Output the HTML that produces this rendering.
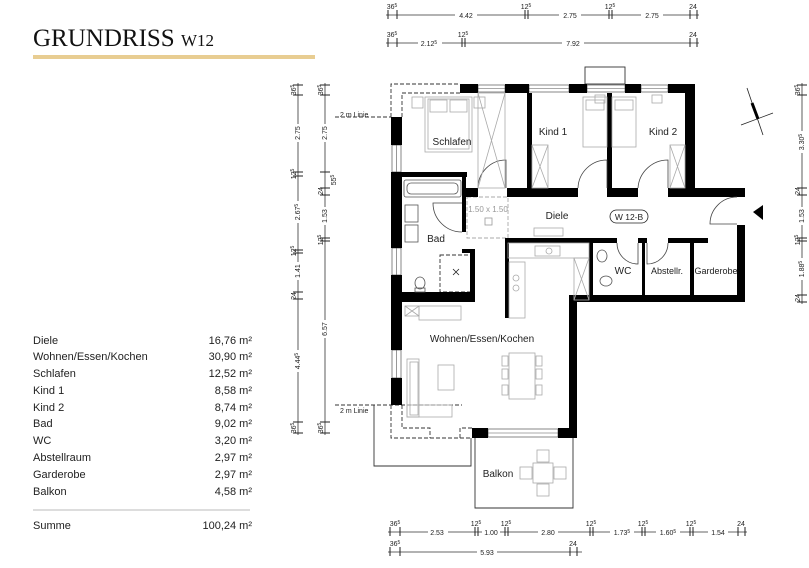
<!DOCTYPE html>
<html><head><meta charset="utf-8"><style>
body{margin:0;background:#fff;width:809px;height:568px;overflow:hidden;font-family:"Liberation Sans",sans-serif}
svg{position:absolute;left:0;top:0}
.t{font-family:"Liberation Sans",sans-serif;fill:#222}
.d{font-family:"Liberation Sans",sans-serif;font-size:7px;fill:#222}
.s{font-family:"Liberation Sans",sans-serif;font-size:5px;fill:#222}
.l{font-size:11px;fill:#222;font-family:"Liberation Sans",sans-serif}
</style></head><body>
<svg width="809" height="568" viewBox="0 0 809 568" xmlns="http://www.w3.org/2000/svg">
<text x="33" y="46" font-family="Liberation Serif,serif" font-size="25" fill="#111">GRUNDRISS <tspan font-size="17">W12</tspan></text>
<rect x="33" y="55" width="282" height="4" fill="#e8cd92"/>
<g class="l">
<text x="33" y="344">Diele</text><text x="252" y="344" text-anchor="end">16,76 m²</text>
<text x="33" y="360">Wohnen/Essen/Kochen</text><text x="252" y="360" text-anchor="end">30,90 m²</text>
<text x="33" y="377">Schlafen</text><text x="252" y="377" text-anchor="end">12,52 m²</text>
<text x="33" y="394">Kind 1</text><text x="252" y="394" text-anchor="end">8,58 m²</text>
<text x="33" y="411">Kind 2</text><text x="252" y="411" text-anchor="end">8,74 m²</text>
<text x="33" y="427">Bad</text><text x="252" y="427" text-anchor="end">9,02 m²</text>
<text x="33" y="444">WC</text><text x="252" y="444" text-anchor="end">3,20 m²</text>
<text x="33" y="461">Abstellraum</text><text x="252" y="461" text-anchor="end">2,97 m²</text>
<text x="33" y="478">Garderobe</text><text x="252" y="478" text-anchor="end">2,97 m²</text>
<text x="33" y="495">Balkon</text><text x="252" y="495" text-anchor="end">4,58 m²</text>
<text x="33" y="529">Summe</text><text x="252" y="529" text-anchor="end">100,24 m²</text>
</g>
<line x1="33" y1="510" x2="250" y2="510" stroke="#bbb" stroke-width="1"/>

<g stroke="#333" stroke-width="0.8" fill="none">
<line x1="386" y1="15" x2="699" y2="15"/>
<line x1="386" y1="43" x2="699" y2="43"/>
<line x1="388" y1="532" x2="747" y2="532"/>
<line x1="388" y1="552" x2="582" y2="552"/>
<line x1="298" y1="83" x2="298" y2="435"/>
<line x1="325" y1="83" x2="325" y2="435"/>
<line x1="802" y1="83" x2="802" y2="304"/>
</g>
<g stroke="#222" stroke-width="1">
<path d="M388 10v9M397 10v9M525 10v9M528 10v9M609 10v9M612 10v9M690 10v9M697 10v9"/>
<path d="M388 38v9M397 38v9M462 38v9M465 38v9M690 38v9M697 38v9"/>
<path d="M390 527v9M400 527v9M475 527v9M478 527v9M505 527v9M508 527v9M590 527v9M593 527v9M642 527v9M645 527v9M690 527v9M693 527v9M738 527v9M745 527v9"/>
<path d="M390 547v9M400 547v9M570 547v9M577 547v9"/>
<path d="M293 85h10M293 95h10M293 172h10M293 176h10M293 250h10M293 253h10M293 292h10M293 299h10M293 422h10M293 433h10"/>
<path d="M320 85h10M320 95h10M320 172h10M320 188h10M320 195h10M320 238h10M320 241h10M320 422h10M320 433h10"/>
<path d="M797 85h10M797 95h10M797 188h10M797 195h10M797 238h10M797 241h10M797 295h10M797 302h10"/>
</g>
<g class="d" text-anchor="middle">
<rect x="455" y="10" width="22" height="9" fill="#fff"/><text x="466" y="18">4.42</text>
<rect x="559" y="10" width="22" height="9" fill="#fff"/><text x="570" y="18">2.75</text>
<rect x="641" y="10" width="22" height="9" fill="#fff"/><text x="652" y="18">2.75</text>
<text x="392" y="9">36<tspan class="s" dy="-2">5</tspan></text>
<text x="526" y="9">12<tspan class="s" dy="-2">5</tspan></text>
<text x="610" y="9">12<tspan class="s" dy="-2">5</tspan></text>
<text x="693" y="9">24</text>
<rect x="418" y="38" width="24" height="9" fill="#fff"/><text x="429" y="46">2.12<tspan class="s" dy="-2">5</tspan></text>
<rect x="562" y="38" width="22" height="9" fill="#fff"/><text x="573" y="46">7.92</text>
<text x="392" y="37">36<tspan class="s" dy="-2">5</tspan></text>
<text x="463" y="37">12<tspan class="s" dy="-2">5</tspan></text>
<text x="693" y="37">24</text>
<text x="395" y="526">36<tspan class="s" dy="-2">5</tspan></text>
<rect x="428" y="527" width="20" height="9" fill="#fff"/><text x="437" y="535">2.53</text>
<text x="476" y="526">12<tspan class="s" dy="-2">5</tspan></text>
<rect x="482" y="527" width="18" height="9" fill="#fff"/><text x="491" y="535">1.00</text>
<text x="506" y="526">12<tspan class="s" dy="-2">5</tspan></text>
<rect x="538" y="527" width="20" height="9" fill="#fff"/><text x="548" y="535">2.80</text>
<text x="591" y="526">12<tspan class="s" dy="-2">5</tspan></text>
<rect x="610" y="527" width="24" height="9" fill="#fff"/><text x="622" y="535">1.73<tspan class="s" dy="-2">5</tspan></text>
<text x="643" y="526">12<tspan class="s" dy="-2">5</tspan></text>
<rect x="656" y="527" width="24" height="9" fill="#fff"/><text x="668" y="535">1.60<tspan class="s" dy="-2">5</tspan></text>
<text x="691" y="526">12<tspan class="s" dy="-2">5</tspan></text>
<rect x="708" y="527" width="20" height="9" fill="#fff"/><text x="718" y="535">1.54</text>
<text x="741" y="526">24</text>
<text x="395" y="546">36<tspan class="s" dy="-2">5</tspan></text>
<rect x="477" y="547" width="20" height="9" fill="#fff"/><text x="487" y="555">5.93</text>
<text x="573" y="546">24</text>
</g>
<g class="d" text-anchor="middle">
<g transform="translate(296,90) rotate(-90)"><text>36<tspan class="s" dy="-2">5</tspan></text></g>
<rect x="294" y="124" width="8" height="18" fill="#fff"/><g transform="translate(300,133) rotate(-90)"><text>2.75</text></g>
<g transform="translate(296,174) rotate(-90)"><text>12<tspan class="s" dy="-2">5</tspan></text></g>
<rect x="294" y="201" width="8" height="22" fill="#fff"/><g transform="translate(300,212) rotate(-90)"><text>2.67<tspan class="s" dy="-2">5</tspan></text></g>
<g transform="translate(296,251) rotate(-90)"><text>12<tspan class="s" dy="-2">5</tspan></text></g>
<rect x="294" y="262" width="8" height="18" fill="#fff"/><g transform="translate(300,271) rotate(-90)"><text>1.41</text></g>
<g transform="translate(296,296) rotate(-90)"><text>24</text></g>
<rect x="294" y="350" width="8" height="22" fill="#fff"/><g transform="translate(300,361) rotate(-90)"><text>4.44<tspan class="s" dy="-2">5</tspan></text></g>
<g transform="translate(296,428) rotate(-90)"><text>36<tspan class="s" dy="-2">5</tspan></text></g>

<g transform="translate(323,90) rotate(-90)"><text>36<tspan class="s" dy="-2">5</tspan></text></g>
<rect x="321" y="124" width="8" height="18" fill="#fff"/><g transform="translate(327,133) rotate(-90)"><text>2.75</text></g>
<g transform="translate(336,180) rotate(-90)"><text>55<tspan class="s" dy="-2">5</tspan></text></g>
<g transform="translate(323,191) rotate(-90)"><text>24</text></g>
<rect x="321" y="207" width="8" height="18" fill="#fff"/><g transform="translate(327,216) rotate(-90)"><text>1.53</text></g>
<g transform="translate(323,240) rotate(-90)"><text>12<tspan class="s" dy="-2">5</tspan></text></g>
<rect x="321" y="320" width="8" height="18" fill="#fff"/><g transform="translate(327,329) rotate(-90)"><text>6.57</text></g>
<g transform="translate(323,428) rotate(-90)"><text>36<tspan class="s" dy="-2">5</tspan></text></g>

<g transform="translate(800,90) rotate(-90)"><text>36<tspan class="s" dy="-2">5</tspan></text></g>
<rect x="798" y="131" width="8" height="22" fill="#fff"/><g transform="translate(804,142) rotate(-90)"><text>3.30<tspan class="s" dy="-2">5</tspan></text></g>
<g transform="translate(800,191) rotate(-90)"><text>24</text></g>
<rect x="798" y="207" width="8" height="18" fill="#fff"/><g transform="translate(804,216) rotate(-90)"><text>1.53</text></g>
<g transform="translate(800,240) rotate(-90)"><text>12<tspan class="s" dy="-2">5</tspan></text></g>
<rect x="798" y="258" width="8" height="22" fill="#fff"/><g transform="translate(804,269) rotate(-90)"><text>1.88<tspan class="s" dy="-2">5</tspan></text></g>
<g transform="translate(800,298) rotate(-90)"><text>24</text></g>
</g>
<text x="340" y="117" class="d">2 m Linie</text>
<text x="340" y="413" class="d">2 m Linie</text>

<g stroke="#333" stroke-width="0.9" fill="none" stroke-dasharray="4,2">
<path d="M391 117V84H460M402 117V93H460"/>
<line x1="335" y1="117" x2="391" y2="117"/>
<path d="M391 405V438H472M402 405V428H430V438M460 438V428H472"/>
<line x1="335" y1="405" x2="462" y2="405"/>
<rect x="467" y="197" width="41" height="41" stroke="#aaa"/>
<rect x="440" y="255" width="33" height="37"/>
</g>
<path d="M374 405V466H471V438" stroke="#333" stroke-width="0.9" fill="none"/>
<path d="M475 438V508H573V438" stroke="#333" stroke-width="0.9" fill="none"/>
<rect x="585" y="67" width="40" height="17" fill="none" stroke="#333" stroke-width="0.9"/>

<g stroke="#555" stroke-width="0.7" fill="#fff">
<rect x="478" y="85" width="27" height="7"/><rect x="529" y="85" width="40" height="7"/><rect x="641" y="85" width="27" height="7"/><rect x="587" y="85" width="38" height="7"/>
<rect x="392" y="145" width="9" height="27"/><rect x="392" y="248" width="9" height="27"/><rect x="392" y="350" width="9" height="28"/>
<rect x="488" y="429" width="70" height="8"/>
</g>
<g stroke="#555" stroke-width="0.6"><path d="M478 88.5h27M529 88.5h40M641 88.5h27M587 88.5h38M396.5 145v27M396.5 248v27M396.5 350v28M488 433h70"/></g>

<g fill="#000">
<rect x="460" y="84" width="18" height="9"/><rect x="505" y="84" width="24" height="9"/><rect x="569" y="84" width="18" height="9"/><rect x="625" y="84" width="16" height="9"/><rect x="668" y="84" width="27" height="9"/>
<rect x="685" y="84" width="10" height="113"/>
<rect x="391" y="117" width="11" height="28"/><rect x="391" y="172" width="11" height="76"/><rect x="391" y="275" width="11" height="75"/><rect x="391" y="378" width="11" height="27"/>
<rect x="527" y="93" width="5" height="104"/><rect x="607" y="93" width="5" height="104"/>
<rect x="462" y="188" width="16" height="9"/><rect x="507" y="188" width="71" height="9"/><rect x="607" y="188" width="31" height="9"/><rect x="668" y="188" width="77" height="9"/>
<rect x="737" y="188" width="8" height="9"/><rect x="737" y="225" width="8" height="77"/>
<rect x="402" y="172" width="65" height="5"/><rect x="462" y="172" width="4" height="60"/>
<rect x="462" y="249" width="13" height="4"/><rect x="470" y="249" width="5" height="53"/><rect x="400" y="292" width="75" height="10"/>
<rect x="505" y="238" width="4" height="80"/><rect x="505" y="238" width="90" height="5"/>
<rect x="589" y="238" width="4" height="64"/><rect x="593" y="238" width="24" height="5"/><rect x="638" y="238" width="9" height="5"/><rect x="668" y="238" width="40" height="5"/>
<rect x="642" y="238" width="3" height="64"/><rect x="690" y="238" width="4" height="64"/>
<rect x="569" y="295" width="176" height="7"/><rect x="569" y="295" width="8" height="143"/>
<rect x="472" y="428" width="16" height="10"/><rect x="558" y="428" width="19" height="10"/>
</g>

<g stroke="#444" stroke-width="0.8" fill="none">
<path d="M506 188V160A28 28 0 0 0 478 188"/>
<path d="M607 188V160A29 29 0 0 0 578 188"/>
<path d="M668 188V160A30 30 0 0 0 638 188"/>
<path d="M462 203H433A29 29 0 0 0 462 232"/>
<path d="M638 243V264A21 21 0 0 1 617 243"/>
<path d="M647 243V264A21 21 0 0 0 668 243"/>
<path d="M737 224H710A27 27 0 0 1 737 197"/>
</g>
<g stroke="#aaa" stroke-width="0.8" fill="none">
<rect x="425" y="97" width="47" height="55"/><rect x="428" y="99" width="41" height="50"/><rect x="430" y="100" width="17" height="12"/><rect x="450" y="100" width="17" height="12"/>
<rect x="412" y="97" width="11" height="11"/><rect x="474" y="97" width="11" height="11"/>
<path d="M478 93L505 188M505 93L478 188"/><rect x="478" y="93" width="27" height="95"/>
<rect x="583" y="97" width="24" height="50"/><rect x="586" y="100" width="18" height="10"/><rect x="612" y="97" width="24" height="50"/><rect x="615" y="100" width="18" height="10"/>
<rect x="595" y="95" width="10" height="8"/><rect x="652" y="95" width="10" height="8"/>
<rect x="532" y="145" width="16" height="43"/><path d="M532 145L548 188M548 145L532 188"/>
<rect x="670" y="145" width="15" height="43"/><path d="M670 145L685 188M685 145L670 188"/>
<rect x="534" y="228" width="29" height="8"/>
<rect x="535" y="246" width="25" height="10"/><circle cx="549" cy="251" r="3"/>
<rect x="509" y="262" width="16" height="56"/><circle cx="516" cy="278" r="3"/><circle cx="516" cy="288" r="3"/>
<rect x="574" y="258" width="15" height="42"/><path d="M574 258L589 300M589 258L574 300"/>
<rect x="508" y="243" width="81" height="15"/>
<rect x="405" y="306" width="14" height="10"/><path d="M405 306L419 316M419 306L405 316"/><rect x="419" y="306" width="42" height="14"/>
<rect x="407" y="359" width="12" height="58"/><rect x="407" y="405" width="45" height="12"/><rect x="410" y="362" width="8" height="53"/>
<rect x="438" y="365" width="16" height="25"/>
<rect x="509" y="353" width="26" height="46"/>
<rect x="502" y="356" width="6" height="10"/><rect x="502" y="369" width="6" height="10"/><rect x="502" y="385" width="6" height="10"/>
<rect x="536" y="356" width="6" height="10"/><rect x="536" y="369" width="6" height="10"/><rect x="536" y="385" width="6" height="10"/>
<rect x="533" y="463" width="20" height="20"/><rect x="520" y="467" width="12" height="12"/><rect x="554" y="467" width="12" height="12"/><rect x="537" y="450" width="12" height="12"/><rect x="537" y="484" width="12" height="12"/>
</g>
<g stroke="#555" stroke-width="0.8" fill="none">
<rect x="404" y="180" width="57" height="17" rx="2"/><rect x="407" y="183" width="51" height="11" rx="4"/>
<rect x="405" y="205" width="13" height="17"/><rect x="405" y="225" width="13" height="17"/>
<ellipse cx="420" cy="283" rx="5" ry="6"/><rect x="415" y="288" width="10" height="4"/>
<ellipse cx="602" cy="256" rx="5" ry="6"/><ellipse cx="606" cy="281" rx="6" ry="5"/>
<rect x="485" y="218" width="7" height="7" stroke="#999"/>
<path d="M453 275l6-6M453 269l6 6" stroke="#222"/>
</g>
<text x="488" y="212" font-size="8" fill="#999" text-anchor="middle" font-family="Liberation Sans,sans-serif">1.50 x 1.50</text>
<rect x="610" y="210" width="38" height="13" rx="6.5" fill="#fff" stroke="#222" stroke-width="0.8"/>
<text x="629" y="220" font-size="8.5" text-anchor="middle" class="t">W 12-B</text>
<g class="t" font-size="10" text-anchor="middle">
<text x="452" y="145">Schlafen</text>
<text x="553" y="135">Kind 1</text>
<text x="663" y="135">Kind 2</text>
<text x="557" y="219">Diele</text>
<text x="436" y="242">Bad</text>
<text x="623" y="274">WC</text>
<text x="667" y="274" font-size="9">Abstellr.</text>
<text x="716" y="274" font-size="9">Garderobe</text>
<text x="482" y="342">Wohnen/Essen/Kochen</text>
<text x="498" y="477">Balkon</text>
</g>
<path d="M753 212L763 205V220Z" fill="#000"/>
<g stroke="#222" stroke-width="0.8"><line x1="747" y1="88" x2="763" y2="135"/><line x1="741" y1="125" x2="773" y2="113"/></g>
<line x1="752" y1="103" x2="758" y2="119" stroke="#000" stroke-width="3"/>
</svg>
</body></html>
